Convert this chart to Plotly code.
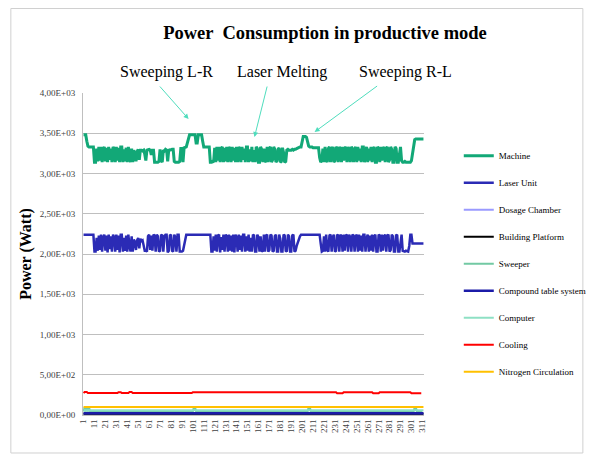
import plotly.graph_objects as go

N = 312
x_index = list(range(1, N + 1))

machine = (
    [3480, 3480, 3480, 3400, 3340, 3330, 3330, 3330, 3330, 3330]
    + [3140, 3140, 3310, 3150, 3330, 3160, 3330, 3140, 3300, 3330,
       3150, 3320, 3140, 3330, 3170, 3310, 3140, 3330, 3300, 3140,
       3330, 3160, 3320, 3140, 3330, 3330, 3140, 3300, 3150, 3320,
       3140, 3330, 3210, 3140, 3310, 3140, 3290, 3250, 3150, 3270,
       3300, 3170, 3290, 3290, 3280, 3290, 3240, 3160, 3290, 3300,
       3300, 3290, 3230, 3290, 3290, 3140, 3140, 3140, 3140, 3150,
       3300, 3160, 3140, 3290, 3280, 3300, 3290, 3150, 3300, 3290,
       3300, 3300, 3300, 3150, 3140, 3140, 3140, 3140, 3150, 3310,
       3310, 3140, 3320, 3330]
    + [3330, 3380, 3440, 3480, 3480, 3480, 3480, 3480, 3480, 3380,
       3380, 3480, 3480, 3480, 3480, 3400]
    + [3330, 3330, 3330, 3330, 3330, 3330]
    + [3140, 3140, 3150, 3140]
    + [3320, 3140, 3330, 3160, 3330, 3140, 3310, 3330, 3140, 3320,
       3150, 3330, 3140, 3330, 3300, 3140, 3330, 3160, 3320, 3140,
       3330, 3140, 3330, 3300, 3140, 3330, 3170, 3310, 3140, 3330,
       3330, 3140, 3300, 3150, 3330, 3140, 3290, 3140, 3330, 3310,
       3140, 3140, 3330, 3300, 3140, 3310, 3160, 3140, 3330, 3140,
       3310, 3330, 3140, 3170, 3330, 3300, 3140, 3160, 3300, 3320,
       3140, 3150, 3320, 3260, 3140, 3150, 3290, 3300, 3290]
    + [3290, 3290, 3300, 3290, 3300, 3300, 3310, 3320, 3330, 3330, 3330, 3400]
    + [3460, 3460, 3460, 3450, 3400, 3340]
    + [3330, 3330, 3330, 3320, 3320, 3320, 3320, 3320]
    + [3320, 3200, 3140, 3160, 3310, 3140, 3330, 3170, 3140, 3310,
       3330, 3140, 3300, 3330, 3140, 3160, 3330, 3310, 3140, 3330,
       3300, 3140, 3330, 3160, 3310, 3330, 3140, 3330, 3290, 3140,
       3330, 3310, 3140, 3300, 3330, 3140, 3330, 3160, 3310, 3140,
       3330, 3330, 3140, 3280, 3330, 3140, 3310, 3160, 3330, 3140,
       3300, 3330, 3140, 3140, 3330, 3310, 3140, 3330, 3160, 3300,
       3330, 3140, 3310, 3330, 3140, 3170, 3330, 3300, 3140, 3140,
       3330, 3310, 3140, 3140, 3270, 3330, 3160, 3140, 3140, 3150,
       3140, 3140, 3140]
    + [3140, 3140, 3160, 3250, 3350, 3420, 3430, 3430, 3430, 3430,
       3430, 3430, 3430, 3430]
)

laser_unit = (
    [2240] * 10
    + [2030, 2030, 2200, 2040, 2230, 2050, 2240, 2030, 2210, 2240,
       2040, 2230, 2020, 2240, 2060, 2220, 2030, 2240, 2210, 2030,
       2240, 2050, 2230, 2020, 2240, 2240, 2030, 2200, 2040, 2230,
       2030, 2240, 2100, 2030, 2220, 2030, 2180, 2150, 2050, 2170,
       2200, 2070, 2190, 2160, 2170, 2120, 2040, 2040, 2030, 2220,
       2240, 2050, 2230, 2040, 2240, 2230, 2030, 2240, 2220, 2030,
       2040, 2240, 2230, 2030, 2220, 2240, 2240, 2020, 2040, 2230,
       2240, 2040, 2030, 2240, 2210, 2030, 2240, 2240, 2030, 2030,
       2030, 2040, 2100, 2200, 2240, 2240]
    + [2240] * 21
    + [2030, 2030, 2220, 2040, 2240, 2030, 2230, 2240, 2020, 2210,
       2050, 2240, 2030, 2240, 2220, 2030, 2240, 2040, 2230, 2030,
       2240, 2020, 2240, 2210, 2030, 2240, 2050, 2230, 2030, 2240,
       2240, 2030, 2220, 2040, 2240, 2030, 2200, 2030, 2240, 2230,
       2030, 2030, 2240, 2210, 2030, 2220, 2040, 2030, 2240, 2030,
       2230, 2240, 2030, 2050, 2240, 2230, 2030, 2040, 2220, 2240,
       2030, 2030, 2240, 2190, 2030, 2030, 2240, 2230, 2040, 2030,
       2240, 2220, 2030, 2030, 2230, 2240, 2030, 2040, 2100, 2150,
       2190, 2220, 2240, 2240, 2240, 2240]
    + [2240] * 13
    + [2240, 2130, 2030, 2040, 2220, 2030, 2240, 2050, 2030, 2230,
       2240, 2030, 2210, 2240, 2030, 2040, 2240, 2230, 2030, 2240,
       2220, 2030, 2240, 2040, 2230, 2240, 2030, 2240, 2210, 2030,
       2240, 2230, 2030, 2220, 2240, 2030, 2240, 2040, 2230, 2030,
       2240, 2240, 2030, 2200, 2240, 2030, 2230, 2040, 2240, 2030,
       2220, 2240, 2030, 2030, 2240, 2230, 2030, 2240, 2040, 2220,
       2240, 2030, 2230, 2240, 2030, 2050, 2240, 2220, 2030, 2030,
       2240, 2230, 2030, 2030, 2180, 2240, 2040, 2030, 2030, 2040,
       2030, 2030]
    + [2100, 2240, 2240, 2130, 2130, 2130, 2130, 2130, 2130, 2130,
       2130, 2130, 2130, 2130]
)

dosage_chamber = [10] * N
building_platform = [15] * N
sweeper = ([45, 95, 45, 95, 45, 95, 45, 45] + [45] * 92 + [45, 95, 95, 45]
           + [45] * 101 + [45, 95, 95, 45] + [45] * 93 + [45, 95, 95, 45] + [45] * 5)
compound_table = [22] * N
computer = [60] * N
cooling = ([272, 285, 285, 285, 272, 272, 272, 272] + [272] * 24
           + [284, 284, 284] + [272] * 7 + [286, 286, 286] + [272] * 55
           + [283] * 132 + [270] * 6 + [283] * 27 + [270] * 6 + [283] * 29
           + [270] * 10)
nitrogen = [100] * N

series_names = ["Machine", "Laser Unit", "Dosage Chamber", "Building Platform",
                "Sweeper", "Compound table system", "Computer", "Cooling",
                "Nitrogen Circulation"]
series_values = [machine, laser_unit, dosage_chamber, building_platform,
                 sweeper, compound_table, computer, cooling, nitrogen]
series_colors = ["#12A877", "#2B2BB5", "#9A9AFF", "#000000", "#72C9A3",
                 "#1B1BA8", "#8EE0C4", "#FF0000", "#FFC000"]
series_widths = [3, 2.5, 2, 2, 2, 2.5, 2, 2, 2]

y_tick_values = [0, 500, 1000, 1500, 2000, 2500, 3000, 3500, 4000]
y_tick_labels = ["0,00E+00", "5,00E+02", "1,00E+03", "1,50E+03", "2,00E+03",
                 "2,50E+03", "3,00E+03", "3,50E+03", "4,00E+03"]
x_tick_values = list(range(1, 312, 10))
x_tick_labels = [str(v) for v in x_tick_values]

phase_labels = ["Sweeping L-R", "Laser Melting", "Sweeping R-L"]

W, H = 595, 447
fig = go.Figure()
for name, vals, col, w in zip(series_names, series_values, series_colors, series_widths):
    fig.add_trace(go.Scatter(x=x_index, y=vals, mode="lines", name=name,
                             legendgroup=name,
                             line=dict(color=col, width=w)))

fig.update_layout(
    width=W, height=H, autosize=False,
    margin=dict(l=75, r=168, t=85, b=40),
    paper_bgcolor="white", plot_bgcolor="white",
    font=dict(family="Liberation Serif", color="#404040"),
    title=dict(text="<b>Power  Consumption in productive mode</b>",
               font=dict(family="Liberation Serif", size=18.5, color="#000000"),
               xref="container", x=317 / W, xanchor="center",
               yref="container", y=1 - 25 / H, yanchor="middle"),
    showlegend=True,
    legend=dict(x=1.102, xanchor="left", y=0.85, yanchor="top",
                font=dict(family="Liberation Serif", size=9, color="#000000"),
                tracegroupgap=8, bgcolor="rgba(0,0,0,0)"),
    xaxis=dict(range=[0.5, 312.5], tickvals=x_tick_values, ticktext=x_tick_labels,
               tickangle=-90, tickfont=dict(size=9, color="#404040"),
               showgrid=False, zeroline=False, showline=True,
               linecolor="#BFBFBF", linewidth=1, ticks=""),
    yaxis=dict(range=[0, 4000], tickvals=y_tick_values, ticktext=y_tick_labels,
               tickfont=dict(size=9, color="#404040"),
               showgrid=True, gridcolor="#BFBFBF", gridwidth=1,
               zeroline=False, showline=True, linecolor="#BFBFBF", linewidth=1,
               ticks="", ticklabelstandoff=5,
               title=dict(text="<b>Power (Watt)</b>",
                          font=dict(family="Liberation Serif", size=16, color="#000000"),
                          standoff=4)),
)

label_x = [0.2457, 0.5838, 0.9446]
for txt, lx in zip(phase_labels, label_x):
    fig.add_annotation(text=txt, xref="paper", yref="paper", x=lx, y=1.0652,
                       showarrow=False, xanchor="center", yanchor="middle",
                       font=dict(family="Liberation Serif", size=16, color="#000000"))

arrow_heads = [(97.1, 3677, -30, -34), (157.4, 3453, 13, -52), (212.4, 3516, 64, -47)]
for hx, hy, ax, ay in arrow_heads:
    fig.add_annotation(text="", x=hx, y=hy, xref="x", yref="y", ax=ax, ay=ay,
                       showarrow=True, arrowhead=2, arrowsize=1, arrowwidth=1,
                       arrowcolor="#4FDDBD")

fig.add_shape(type="rect", xref="paper", yref="paper",
              x0=-0.2116, x1=1.4659, y0=-0.118, y1=1.2624,
              line=dict(color="#D0D0D0", width=1), layer="below")

fig.write_html("out.html")
